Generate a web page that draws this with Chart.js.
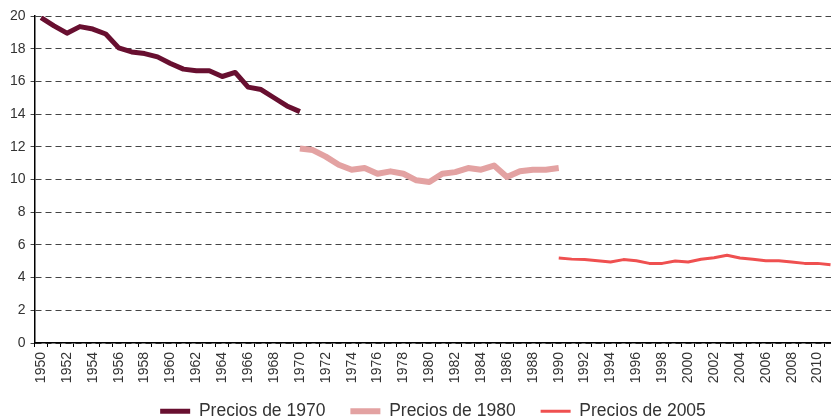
<!DOCTYPE html>
<html>
<head>
<meta charset="utf-8">
<script src="https://cdn.jsdelivr.net/npm/chart.js@4/dist/chart.umd.min.js"></script>
<style>
  html, body { margin: 0; padding: 0; background: #fff; overflow: hidden; }
</style>
</head>
<body>
<canvas id="chart" width="837" height="441"></canvas>
<script>
const years = [
  1950, 1951, 1952, 1953, 1954, 1955, 1956, 1957, 1958, 1959,
  1960, 1961, 1962, 1963, 1964, 1965, 1966, 1967, 1968, 1969,
  1970, 1971, 1972, 1973, 1974, 1975, 1976, 1977, 1978, 1979,
  1980, 1981, 1982, 1983, 1984, 1985, 1986, 1987, 1988, 1989,
  1990, 1991, 1992, 1993, 1994, 1995, 1996, 1997, 1998, 1999,
  2000, 2001, 2002, 2003, 2004, 2005, 2006, 2007, 2008, 2009,
  2010, 2011
];

// 1950-1970
const precios1970 = [
  19.9, 19.4, 18.95, 19.35, 19.2, 18.9, 18.05, 17.8, 17.7, 17.5,
  17.1, 16.75, 16.65, 16.65, 16.3, 16.55, 15.65, 15.5, 15.0, 14.5,
  14.15
];
// 1970-1990
const precios1980 = [
  11.9, 11.8, 11.4, 10.9, 10.6, 10.7, 10.35, 10.5, 10.35, 9.95,
  9.85, 10.35, 10.45, 10.7, 10.6, 10.85, 10.15, 10.5, 10.6, 10.6,
  10.7
];
// 1990-2011
const precios2005 = [
  5.2, 5.13, 5.11, 5.03, 4.95, 5.1, 5.03, 4.87, 4.87, 5.02,
  4.95, 5.12, 5.22, 5.37, 5.2, 5.12, 5.03, 5.03, 4.95, 4.87,
  4.87, 4.78
];

const yMin = 0;
const yMax = 20;
const yStep = 2;

function place(values, startYear) {
  return years.map((y) => {
    const i = y - startYear;
    return i >= 0 && i < values.length ? values[i] : null;
  });
}

// nudge the legend to where the original has it
const legendShift = {
  id: "legendShift",
  afterLayout(chart) {
    const lg = chart.legend;
    lg.top -= 11;
    lg.bottom -= 11;
    lg.left += 12;
    lg.right += 12;
  },
};

Chart.defaults.font.family = "'Liberation Sans', Arial, sans-serif";
Chart.defaults.color = "#333";

const ctx = document.getElementById("chart").getContext("2d");

new Chart(ctx, {
  type: "line",
  data: {
    labels: years,
    datasets: [
      {
        label: "Precios de 1970",
        data: place(precios1970, 1950),
        borderColor: "#680f30",
        backgroundColor: "#680f30",
        borderWidth: 5,
      },
      {
        label: "Precios de 1980",
        data: place(precios1980, 1970),
        borderColor: "#e3a2a2",
        backgroundColor: "#e3a2a2",
        borderWidth: 6,
      },
      {
        label: "Precios de 2005",
        data: place(precios2005, 1990),
        borderColor: "#ef5050",
        backgroundColor: "#ef5050",
        borderWidth: 3,
      },
    ],
  },
  plugins: [legendShift],
  options: {
    responsive: false,
    animation: false,
    layout: { padding: { left: 5, right: 0, top: 16, bottom: 0 } },
    elements: {
      point: { radius: 0 },
      line: { tension: 0, borderJoinStyle: "round", borderCapStyle: "butt" },
    },
    plugins: {
      tooltip: { enabled: false },
      legend: {
        position: "bottom",
        labels: {
          usePointStyle: true,
          pointStyle: "line",
          pointStyleWidth: 30,
          padding: 25,
          color: "#333",
          font: { size: 17.5 },
        },
      },
    },
    scales: {
      x: {
        offset: true,
        afterFit: (scale) => {
          scale.height = 45.5;
          scale.paddingLeft = 0;
          scale.paddingRight = 0;
        },
        grid: {
          offset: true,
          drawOnChartArea: false,
          drawTicks: true,
          tickLength: 4,
          color: "#000",
        },
        border: { display: true, color: "#000", width: 1.5 },
        ticks: {
          autoSkip: false,
          maxRotation: 90,
          minRotation: 90,
          padding: 5,
          color: "#333",
          font: { size: 14 },
          callback: function (value) {
            const y = years[value];
            return y % 2 === 0 ? String(y) : "";
          },
        },
      },
      y: {
        min: yMin,
        max: yMax,
        grid: {
          color: "#444",
          lineWidth: 1,
          drawTicks: true,
          tickLength: 4,
        },
        border: { display: true, color: "#000", width: 1.5, dash: [6, 4] },
        ticks: {
          stepSize: yStep,
          padding: 5,
          color: "#333",
          font: { size: 14 },
        },
      },
    },
  },
});
</script>
</body>
</html>
